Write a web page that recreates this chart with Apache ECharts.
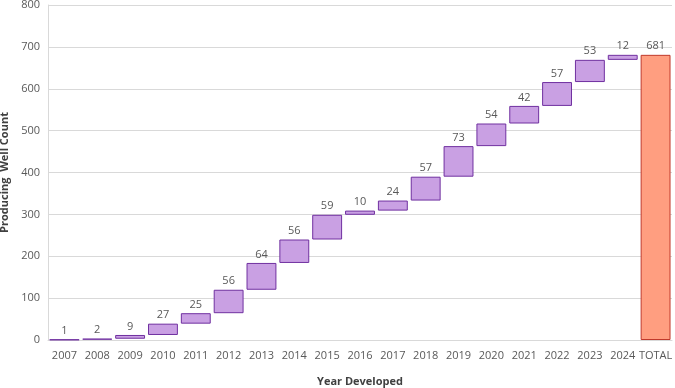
<!DOCTYPE html>
<html><head><meta charset="utf-8">
<script src="https://cdn.jsdelivr.net/npm/echarts@6/dist/echarts.min.js"></script>
<style>html,body{margin:0;padding:0;background:#fff}#c{width:675px;height:388px}</style>
</head><body><div id="c"></div>
<script>
const categories = ['2007','2008','2009','2010','2011','2012','2013','2014','2015','2016','2017','2018','2019','2020','2021','2022','2023','2024','TOTAL'];
const increments = [1,2,9,27,25,56,64,56,59,10,24,57,73,54,42,57,53,12];
const totalValue = 681;
const yTicks = {min:0, max:800, interval:100};

const bases = [];
let run = 0;
for (const v of increments) { bases.push(run); run += v; }
bases.push(0);
const visible = increments.map(v => ({value: v}));
visible.push({value: totalValue, itemStyle:{color:'#FF9E80', borderColor:'#C0392B'}});

const chart = echarts.init(document.getElementById('c'));
const font = 'Open Sans';
chart.setOption({
  animation:false,
  grid:{left:48,right:3,top:5,bottom:48,containLabel:false,outerBoundsMode:'none'},
  xAxis:{type:'category',data:categories,
    axisLine:{lineStyle:{color:'#D9D9D9'}},axisTick:{show:false},
    axisLabel:{color:'#595959',fontSize:11,fontFamily:font,margin:10,interval:0},
    name:'Year Developed',nameLocation:'middle',nameGap:36,
    nameTextStyle:{color:'#404040',fontSize:11,fontWeight:'bold',fontFamily:font}},
  yAxis:{type:'value',min:yTicks.min,max:yTicks.max,interval:yTicks.interval,
    axisLine:{show:true,lineStyle:{color:'#D9D9D9'}},axisTick:{show:false},
    splitLine:{lineStyle:{color:'#D9D9D9'}},
    axisLabel:{color:'#595959',fontSize:11,fontFamily:font,margin:8},
    name:'Producing  Well Count',nameLocation:'middle',nameGap:35,
    nameTextStyle:{color:'#404040',fontSize:11,fontWeight:'bold',fontFamily:font}},
  series:[
    {type:'bar',stack:'w',data:bases,itemStyle:{color:'transparent'},barCategoryGap:'9%',silent:true},
    {type:'bar',stack:'w',data:visible,
      itemStyle:{color:'#C9A0E3',borderColor:'#7030A0',borderWidth:1},
      label:{show:true,position:'top',color:'#595959',fontSize:11,fontFamily:font,distance:3}}
  ]
});
</script></body></html>
